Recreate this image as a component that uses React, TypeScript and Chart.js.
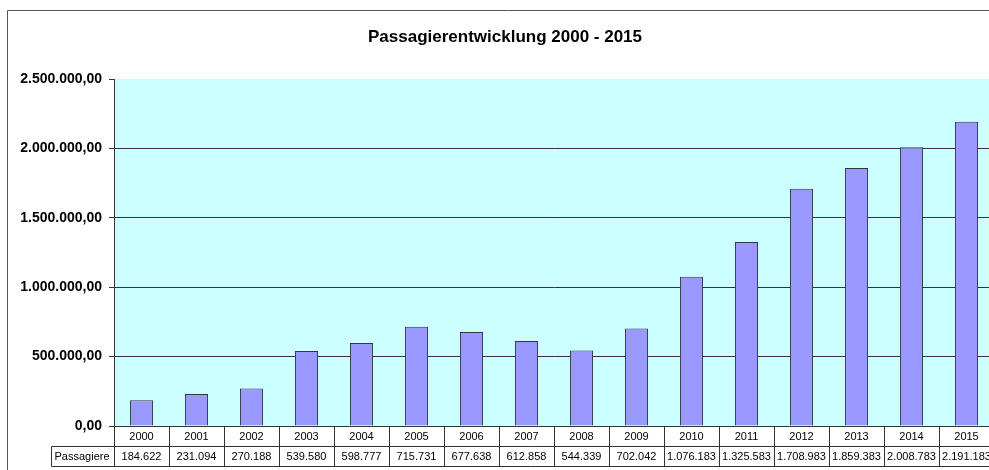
import React, { useEffect, useRef } from "react";
import { Chart, registerables } from "chart.js";

Chart.register(...registerables);

const years = ["2000","2001","2002","2003","2004","2005","2006","2007","2008","2009","2010","2011","2012","2013","2014","2015"];
const passagiere = [184622, 231094, 270188, 539580, 598777, 715731, 677638, 612858, 544339, 702042, 1076183, 1325583, 1708983, 1859383, 2008783, 2191183];
const seriesName = "Passagiere";
const titleText = "Passagierentwicklung 2000 - 2015";
const yMax = 2500000;
const yStep = 500000;

const FONT = "'Liberation Sans', Arial, sans-serif";

function groupDE(n: number): string {
  const s = Math.round(Math.abs(n)).toString();
  let out = "";
  for (let i = 0; i < s.length; i++) {
    if (i > 0 && (s.length - i) % 3 === 0) out += ".";
    out += s[i];
  }
  return (n < 0 ? "-" : "") + out;
}
function fmt2(n: number): string {
  return groupDE(n) + ",00";
}

export default function App() {
  const ref = useRef<HTMLCanvasElement | null>(null);
  useEffect(() => {
    const canvas = ref.current!;
    const framePlugin = {
      id: "frame",
      beforeDraw(chart: any) {
        const { ctx, chartArea } = chart;
        ctx.save();
        ctx.fillStyle = "#ffffff";
        ctx.fillRect(0, 0, chart.width, chart.height);
        ctx.strokeStyle = "#555555";
        ctx.lineWidth = 1;
        ctx.beginPath();
        ctx.moveTo(7.5, chart.height);
        ctx.lineTo(7.5, 10.5);
        ctx.lineTo(chart.width, 10.5);
        ctx.stroke();
        ctx.fillStyle = "#CCFFFF";
        ctx.fillRect(chartArea.left, chartArea.top, chartArea.right - chartArea.left, chartArea.bottom - chartArea.top);
        ctx.restore();
      },
    };
    const tablePlugin = {
      id: "datatable",
      afterDraw(chart: any) {
        const { ctx, chartArea } = chart;
        const xs = chart.scales.x;
        const n = years.length;
        const w = (xs.right - xs.left) / n;
        const top = Math.round(chartArea.bottom) + 0.5;
        const mid = top + 20;
        const bot = top + 40;
        const leftCell = 51.5;
        ctx.save();
        ctx.strokeStyle = "#333333";
        ctx.lineWidth = 1;
        ctx.beginPath();
        ctx.moveTo(chartArea.left, top);
        ctx.lineTo(chart.width, top);
        ctx.moveTo(leftCell, mid);
        ctx.lineTo(chart.width, mid);
        ctx.moveTo(leftCell, bot);
        ctx.lineTo(chart.width, bot);
        ctx.moveTo(leftCell, mid);
        ctx.lineTo(leftCell, bot);
        for (let i = 0; i <= n; i++) {
          const x = Math.round(xs.getPixelForValue(i) - w / 2) + 0.5;
          ctx.moveTo(x, top);
          ctx.lineTo(x, bot);
        }
        ctx.stroke();
        ctx.fillStyle = "#000000";
        ctx.font = `11px ${FONT}`;
        ctx.textBaseline = "middle";
        ctx.textAlign = "center";
        for (let i = 0; i < n; i++) {
          const cx = xs.getPixelForValue(i);
          ctx.fillText(years[i], cx, top + 10.5);
          ctx.fillText(groupDE(passagiere[i]), cx, mid + 10.5);
        }
        ctx.textAlign = "left";
        ctx.fillText(seriesName, leftCell + 3, mid + 10.5);
        ctx.restore();
      },
    };
    const chart = new Chart(canvas, {
      type: "bar",
      data: {
        labels: years,
        datasets: [
          {
            label: seriesName,
            data: passagiere,
            backgroundColor: "#9999FF",
            borderColor: "#333344",
            borderWidth: 1,
            barPercentage: 0.42,
            categoryPercentage: 1.0,
          },
        ],
      },
      options: {
        responsive: false,
        animation: false,
        devicePixelRatio: 1,
        layout: { padding: { left: 16, right: 16, top: 0, bottom: 0 } },
        plugins: {
          legend: { display: false },
          tooltip: { enabled: false },
          title: {
            display: true,
            text: titleText,
            color: "#000000",
            font: { family: FONT, size: 17, weight: "bold" },
            padding: { top: 27, bottom: 31.6 },
          },
        },
        scales: {
          x: {
            grid: { display: false },
            border: { display: false },
            ticks: { display: false },
            afterFit: (s: any) => {
              s.height = 44;
            },
          },
          y: {
            min: 0,
            max: yMax,
            ticks: {
              stepSize: yStep,
              color: "#000000",
              font: { family: FONT, size: 14, weight: "bold" },
              padding: 7,
              callback: (v: any) => fmt2(Number(v)),
            },
            grid: {
              color: (c: any) => (c.tick && c.tick.value === yMax ? "rgba(0,0,0,0)" : "#333333"),
              tickColor: "#333333",
              tickLength: 5,
              lineWidth: 1,
            },
            border: { color: "#333333", width: 1 },
            afterFit: (s: any) => {
              s.width = 98;
            },
          },
        },
      },
      plugins: [framePlugin, tablePlugin],
    });
    return () => chart.destroy();
  }, []);
  return (
    <div style={{ position: "absolute", left: 0, top: 0, width: 989, height: 470, overflow: "hidden", background: "#fff" }}>
      <canvas ref={ref} width={1010} height={470} style={{ display: "block", width: 1010, height: 470 }} />
    </div>
  );
}
